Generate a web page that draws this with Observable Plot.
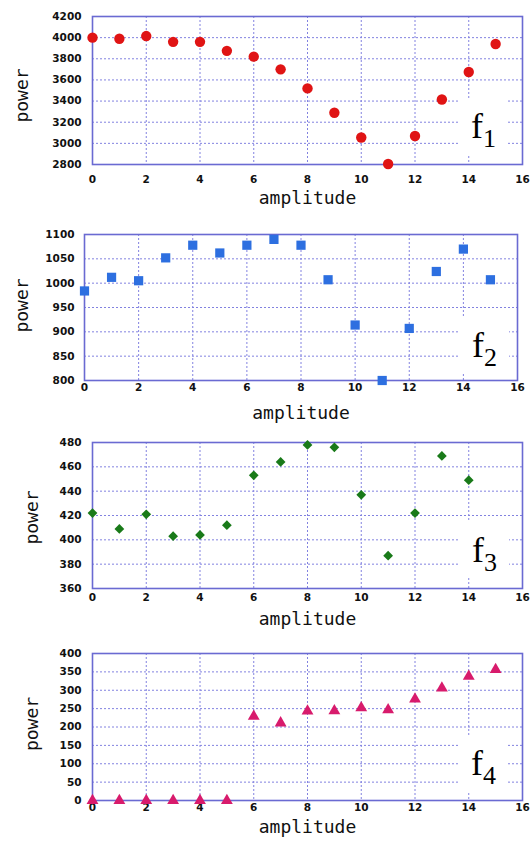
<!DOCTYPE html>
<html>
<head>
<meta charset="utf-8">
<script src="https://cdn.jsdelivr.net/npm/d3@7"></script>
<script src="https://cdn.jsdelivr.net/npm/@observablehq/plot@0.6"></script>
<style>
  body { margin: 0; background: #fff; }
  #wrap { position: relative; width: 532px; height: 841px; overflow: hidden; }
  #wrap svg { display: block; }
  .lbl { position: absolute; width: 50px; height: 56px; background: #fff; box-sizing: border-box;
         padding-left: 13px; padding-top: 10px;
         font-family: "Liberation Serif", "Times New Roman", serif; font-size: 36px; line-height: 1; color: #000; }
  .lbl sub { font-size: 26px; vertical-align: baseline; position: relative; top: 9px; }
</style>
</head>
<body>
<div id="wrap"></div>
<script>
// ---- data ----
const amplitude = [0, 1, 2, 3, 4, 5, 6, 7, 8, 9, 10, 11, 12, 13, 14, 15];
const f1Power = [4000, 3990, 4015, 3960, 3960, 3875, 3820, 3700, 3520, 3290, 3055, 2805, 3070, 3415, 3675, 3940];
const f2Power = [984, 1012, 1005, 1052, 1078, 1062, 1078, 1090, 1078, 1007, 914, 800, 907, 1024, 1070, 1007];
const f3Power = [422, 409, 421, 403, 404, 412, 453, 464, 478, 476, 437, 387, 422, 469, 449];
const f4Power = [0, 0, 0, 0, 0, 0, 229, 211, 243, 244, 252, 247, 276, 306, 338, 356];
const xTicks = [0, 2, 4, 6, 8, 10, 12, 14, 16];
const f1Ticks = [2800, 3000, 3200, 3400, 3600, 3800, 4000, 4200];
const f2Ticks = [800, 850, 900, 950, 1000, 1050, 1100];
const f3Ticks = [360, 380, 400, 420, 440, 460, 480];
const f4Ticks = [0, 50, 100, 150, 200, 250, 300, 350, 400];
const seriesNames = ["1", "2", "3", "4"];
const xLabel = "amplitude";
const yLabel = "power";

// ---- layout / style ----
const panels = [
  {values: f1Power, ticks: f1Ticks, symbol: "circle", r: 5.2, color: "#e01414",
   h: 210, mt: 16, mb: 46, ml: 92, mr: 10, xPad: 11, xl: 34, yl: -70, yly: 5, box: [458, 98]},
  {values: f2Power, ticks: f2Ticks, symbol: "square", r: 5.2, color: "#2d6fe0",
   h: 210, mt: 24, mb: 40, ml: 84, mr: 15, xPad: 3, xl: 33, yl: -62, yly: -2, box: [459, 317]},
  {values: f3Power, ticks: f3Ticks, symbol: "diamond2", r: 4.4, color: "#197a19",
   h: 210, mt: 22, mb: 42, ml: 92, mr: 10, xPad: 5, xl: 31, yl: -60, yly: 2, box: [459, 522]},
  {values: f4Power, ticks: f4Ticks, symbol: "triangle", r: 4.4, color: "#d81b6c",
   h: 211, mt: 23, mb: 41, ml: 92, mr: 10, xPad: 3, xl: 27, yl: -60, yly: -3, box: [458, 735]}
];

const wrap = document.getElementById("wrap");
const gridStyle = {stroke: "#8282e0", strokeOpacity: 1, strokeDasharray: "2,2", strokeWidth: 1};

panels.forEach((p, k) => {
  const data = p.values.map((v, i) => ({amplitude: amplitude[i], power: v}));
  const yDomain = [p.ticks[0], p.ticks[p.ticks.length - 1]];
  const chart = Plot.plot({
    width: 532, height: p.h,
    marginTop: p.mt, marginBottom: p.mb, marginLeft: p.ml, marginRight: p.mr,
    x: {domain: [0, 16], label: null},
    y: {domain: yDomain, label: null},
    style: {fontFamily: "DejaVu Sans", background: "transparent", color: "#111", overflow: "visible"},
    marks: [
      Plot.gridX(xTicks, gridStyle),
      Plot.gridY(p.ticks, gridStyle),
      Plot.frame({stroke: "#6a6ad2", strokeWidth: 1.6}),
      Plot.axisX(xTicks, {tickSize: 0, tickPadding: p.xPad, fontWeight: "bold", fontSize: 10.5, label: null, tickFormat: d => `${d}`}),
      Plot.axisY(p.ticks, {tickSize: 0, tickPadding: p.ml === 84 ? 10 : 11, fontWeight: "bold", fontSize: 10.5, label: null, tickFormat: d => `${d}`}),
      Plot.text([xLabel], {text: d => d, frameAnchor: "bottom", dy: p.xl, lineAnchor: "middle",
        fontFamily: "DejaVu Sans Mono", fontSize: 18, fill: "#111"}),
      Plot.text([yLabel], {text: d => d, frameAnchor: "left", dx: p.yl, dy: p.yly, rotate: -90, lineAnchor: "middle",
        textAnchor: "middle", fontFamily: "DejaVu Sans Mono", fontSize: 18, fill: "#111"}),
      Plot.dot(data, {x: "amplitude", y: "power", symbol: p.symbol, r: p.r, fill: p.color, stroke: null})
    ]
  });
  wrap.appendChild(chart);
  const lbl = document.createElement("div");
  lbl.className = "lbl";
  lbl.style.left = p.box[0] + "px";
  lbl.style.top = p.box[1] + "px";
  lbl.innerHTML = "f<sub>" + seriesNames[k] + "</sub>";
  wrap.appendChild(lbl);
});
</script>
</body>
</html>
